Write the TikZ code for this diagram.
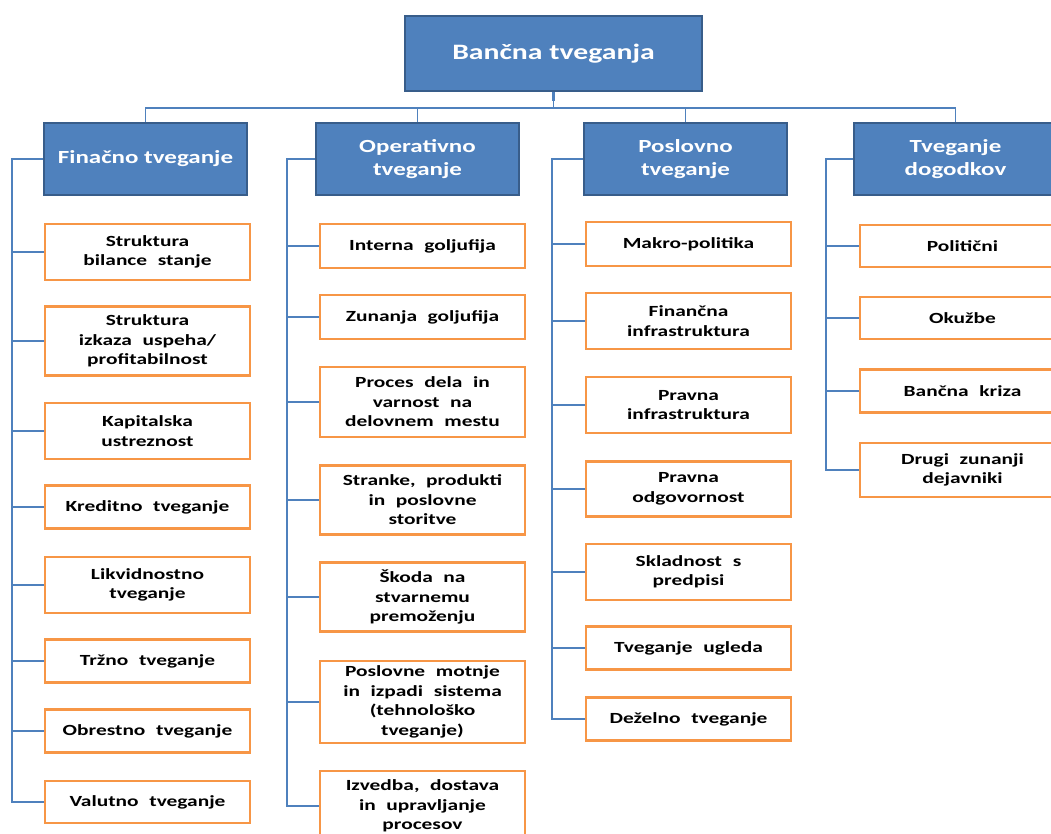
\documentclass[tikz,border=0pt]{standalone}
\usepackage{fontspec}
\setmainfont{Carlito}[FakeStretch=1.35]
\newfontfamily\itemfont{Carlito}[FakeStretch=1.38, WordSpace=2.2]
\definecolor{headfill}{HTML}{4F81BD}
\definecolor{headline}{HTML}{385D8A}
\definecolor{itemline}{HTML}{F79646}
\definecolor{linkblue}{HTML}{4F81BD}

\begin{document}
\begin{tikzpicture}[x=1pt,y=-1pt]
		\tikzstyle{every node}=[inner sep=2pt, align=center]
		\tikzstyle{topbox}=[draw=headline, fill=headfill, line width=2pt, text=white, minimum width=297pt, minimum height=75pt, font=\fontsize{22}{26}\selectfont\bfseries]
		\tikzstyle{headbox}=[draw=headline, fill=headfill, line width=2pt, text=white, minimum width=203pt, minimum height=72pt, font=\fontsize{18.5}{23}\selectfont\bfseries]
		\tikzstyle{itembox}=[draw=itemline, fill=white, line width=2.5pt, minimum width=205pt, font=\fontsize{15.5}{19.5}\itemfont\bfseries]
		\tikzstyle{link}=[draw=linkblue, line width=1.5pt]
		
		\clip (0,0) rectangle (1051,834);
		
		% main box and the four groups
		\node[topbox] (bank) at (553.5,53.5) {Bančna tveganja};
		\node[headbox] (fin) at (145.5,159) {Finačno tveganje};
		\node[headbox] (ope) at (417.5,159) {Operativno\\ tveganje};
		\node[headbox] (pos) at (685.5,159) {Poslovno\\ tveganje};
		\node[headbox] (dog) at (955.5,159) {Tveganje\\ dogodkov};
		
		\draw[link, line width=2.5pt] (bank.south) -- ++(0,9);
		\foreach \g in {fin,ope,pos,dog}
			\draw[link] (bank.south) -- ++(0,16) -| (\g.north);
		
		% financial risks
		\node[itembox, minimum height=56pt] (f1) at (147.5,252) {Struktura\\ bilance stanje};
		\node[itembox, minimum height=69pt] (f2) at (147.5,341) {Struktura\\ izkaza uspeha/\\ profitabilnost};
		\node[itembox, minimum height=56pt] (f3) at (147.5,431) {Kapitalska\\ ustreznost};
		\node[itembox, minimum height=43pt] (f4) at (147.5,507) {Kreditno tveganje};
		\node[itembox, minimum height=56pt] (f5) at (147.5,585) {Likvidnostno\\ tveganje};
		\node[itembox, minimum height=43pt] (f6) at (147.5,661) {Tržno tveganje};
		\node[itembox, minimum height=43pt] (f7) at (147.5,731) {Obrestno tveganje};
		\node[itembox, minimum height=42pt] (f8) at (147.5,802) {Valutno tveganje};
		
		% operational risks
		\node[itembox, minimum height=44pt] (o1) at (422.5,246) {Interna goljufija};
		\node[itembox, minimum height=44pt] (o2) at (422.5,317) {Zunanja goljufija};
		\node[itembox, minimum height=70pt] (o3) at (422.5,402) {Proces dela in\\ varnost na\\ delovnem mestu};
		\node[itembox, minimum height=69pt] (o4) at (422.5,500) {Stranke, produkti\\ in poslovne\\ storitve};
		\node[itembox, minimum height=69pt] (o5) at (422.5,597) {Škoda na\\ stvarnemu\\ premoženju};
		\node[itembox, minimum height=82pt] (o6) at (422.5,702) {Poslovne motnje\\ in izpadi sistema\\ (tehnološko\\ tveganje)};
		\node[itembox, minimum height=70pt] (o7) at (422.5,806) {Izvedba, dostava\\ in upravljanje\\ procesov};
		
		% business risks
		\node[itembox, minimum height=44pt] (p1) at (688.5,244) {Makro-politika};
		\node[itembox, minimum height=56pt] (p2) at (688.5,321) {Finančna\\ infrastruktura};
		\node[itembox, minimum height=56pt] (p3) at (688.5,405) {Pravna\\ infrastruktura};
		\node[itembox, minimum height=55pt] (p4) at (688.5,489) {Pravna\\ odgovornost};
		\node[itembox, minimum height=56pt] (p5) at (688.5,572) {Skladnost s\\ predpisi};
		\node[itembox, minimum height=43pt] (p6) at (688.5,648) {Tveganje ugleda};
		\node[itembox, minimum height=43pt] (p7) at (688.5,719) {Deželno tveganje};
		
		% event risks
		\node[itembox, minimum height=42pt] (d1) at (962.5,246) {Politični};
		\node[itembox, minimum height=42pt] (d2) at (962.5,318) {Okužbe};
		\node[itembox, minimum height=43pt] (d3) at (962.5,391) {Bančna kriza};
		\node[itembox, minimum height=54pt] (d4) at (962.5,470) {Drugi zunanji\\ dejavniki};
		
		% spines on the left of each group
		\coordinate (finspine) at (12,159);
		\coordinate (opespine) at (287,159);
		\coordinate (posspine) at (552,159);
		\coordinate (dogspine) at (826,159);
		
		\draw[link] (fin.west) -- (finspine) |- (f8.west);
		\draw[link] (ope.west) -- (opespine) |- (o7.west);
		\draw[link] (pos.west) -- (posspine) |- (p7.west);
		\draw[link] (dog.west) -- (dogspine) |- (d4.west);
		
		\foreach \c in {f1,f2,f3,f4,f5,f6,f7}
			\draw[link] (finspine |- \c.west) -- (\c.west);
		\foreach \c in {o1,o2,o3,o4,o5,o6}
			\draw[link] (opespine |- \c.west) -- (\c.west);
		\foreach \c in {p1,p2,p3,p4,p5,p6}
			\draw[link] (posspine |- \c.west) -- (\c.west);
		\foreach \c in {d1,d2,d3}
			\draw[link] (dogspine |- \c.west) -- (\c.west);
		
		\end{tikzpicture}
\end{document}
